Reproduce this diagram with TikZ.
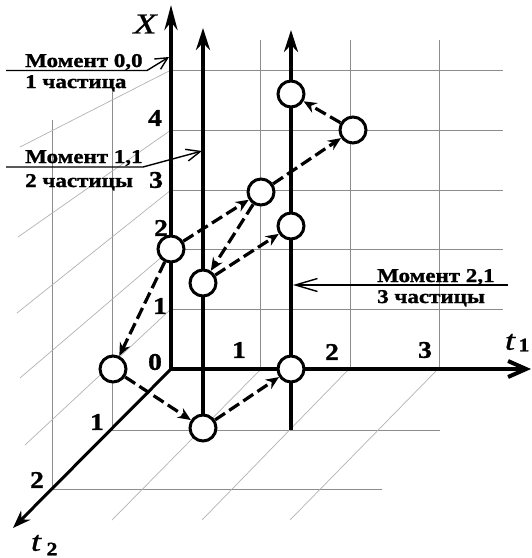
\documentclass[tikz,border=0pt]{standalone}
\usepackage{fontspec}
\setmainfont{Liberation Serif}
\newfontfamily\lblfont[FakeStretch=1.18, BoldFeatures={FakeBold=1.2}]{Liberation Serif}
\newfontfamily\numfont[FakeStretch=1.15, BoldFeatures={FakeBold=1.2}]{Liberation Serif}
\newfontfamily\axfont[FakeStretch=1.3, ItalicFeatures={FakeBold=1}]{Liberation Serif}
\usetikzlibrary{arrows.meta}
\begin{document}
\begin{tikzpicture}[x=1pt,y=-1pt,
  grid/.style={black!45, line width=0.8pt},
  gridl/.style={black!30, line width=0.7pt},
  axis/.style={line width=4pt},
  worldline/.style={line width=3.5pt},
  particle/.style={circle, draw, line width=3pt, fill=white, minimum size=26pt, inner sep=0pt},
  jump/.style={line width=3.2pt, dash pattern=on 12pt off 5pt, -{Stealth[length=13pt,width=11pt]}},
  note/.style={line width=1.4pt},
  num/.style={font=\numfont\fontsize{24}{24}\selectfont\bfseries, inner sep=0pt},
  lbl/.style={font=\lblfont\fontsize{19.5}{21}\selectfont\bfseries, inner sep=0pt, anchor=base west}
]
\useasboundingbox (0,0) rectangle (532,558);
% ---------- grid: back wall ----------
\foreach \y in {70,130,190,249,309} \draw[grid] (171,\y) -- (503,\y);
\foreach \x in {260,350,439} \draw[grid] (\x,40) -- (\x,369);
% ---------- grid: floor ----------
\draw[grid] (112,430) -- (440,430);
\draw[grid] (52,489) -- (382,489);
\draw[gridl] (261,369) -- (112,520);
\draw[gridl] (349,369) -- (202,520);
\draw[gridl] (438,369) -- (290,520);
% ---------- grid: side wall ----------
\draw[grid] (112,88) -- (112,430);
\draw[grid] (52,120) -- (52,489);
\draw[gridl] (171,70) -- (20,147);
\draw[gridl] (171,130) -- (18,237);
\draw[gridl] (171,190) -- (17,313);
\draw[gridl] (171,249) -- (20,378);
\draw[gridl] (171,309) -- (25,445);
% ---------- axes ----------
\coordinate (O) at (171,369);
\coordinate (Xtip) at (171,5);
\coordinate (T1tip) at (531,369);
\coordinate (T2tip) at (13,528);
\coordinate (w1b) at (203,428);
\coordinate (w1t) at (203,28);
\coordinate (w2b) at (291,430);
\coordinate (w2t) at (291,30);
\draw[axis, -{Stealth[length=25pt,width=13pt]}] (O) -- (Xtip);
\draw[axis, -{Straight Barb[length=18pt,width=16pt]}] (O) -- (T1tip);
\draw[line width=3pt, -{Stealth[length=18pt,width=13pt]}] (O) -- (T2tip);
\draw[worldline, -{Stealth[length=22pt,width=14pt]}] (w1b) -- (w1t);
\draw[worldline, -{Stealth[length=22pt,width=14pt]}] (w2b) -- (w2t);
% ---------- axis labels ----------
\node[inner sep=0pt] (lX) at (145,24) {\axfont\fontsize{29}{29}\selectfont\itshape X};
\node[inner sep=0pt] (lt1) at (510,342) {\axfont\fontsize{28}{28}\selectfont\itshape t};
\node[inner sep=0pt] (lt1i) at (524,345) {\numfont\fontsize{19}{19}\selectfont\bfseries 1};
\node[inner sep=0pt] (lt2) at (36,543) {\axfont\fontsize{28}{28}\selectfont\itshape t};
\node[inner sep=0pt] (lt2i) at (52,549) {\numfont\fontsize{19}{19}\selectfont\bfseries 2};
% ---------- numbers ----------
\node[num] (x4) at (155,118) {4};
\node[num] (x3) at (156,180) {3};
\node[num] (x2) at (161,228) {2};
\node[num] (x1) at (160,306) {1};
\node[num] (x0) at (155,362) {0};
\node[num] (a1) at (239,350) {1};
\node[num] (a2) at (332,352) {2};
\node[num] (a3) at (425,350) {3};
\node[num] (b1) at (97,422) {1};
\node[num] (b2) at (37,480) {2};
% ---------- notes ----------
\node[lbl] (m00) at (25,67) {Момент 0,0};
\node[lbl] (p00) at (25,88) {1 частица};
\node[lbl] (m11) at (25,163) {Момент 1,1};
\node[lbl] (p11) at (25,187) {2 частицы};
\node[lbl] (m21) at (377,282) {Момент 2,1};
\node[lbl] (p21) at (377,303) {3 частицы};
\coordinate (n0s) at (6,70.5);
\coordinate (n0m) at (147,70.5);
\coordinate (n0t) at (169,57);
\coordinate (n1s) at (6,167);
\coordinate (n1m) at (143,167);
\coordinate (n1t) at (202,151);
\coordinate (n2s) at (508,285);
\coordinate (n2t) at (293,285);
\draw[note, -{Straight Barb[length=12pt,width=12pt]}] (n0s) -- (n0m) -- (n0t);
\draw[note, -{Straight Barb[length=14pt,width=12pt]}] (n1s) -- (n1m) -- (n1t);
\draw[note, -{Straight Barb[length=22pt,width=13pt]}] (n2s) -- (n2t);
% ---------- particles ----------
\node[particle] (n02) at (171,249) {};
\node[particle] (n011) at (113,369) {};
\node[particle] (n110) at (203,428) {};
\node[particle] (n11b) at (203,283) {};
\node[particle] (n103) at (261,192) {};
\node[particle] (n21a) at (291,226) {};
\node[particle] (n21b) at (291,94) {};
\node[particle] (n204) at (353,130) {};
\node[particle] (n211) at (291,369) {};
% ---------- jumps ----------
\draw[jump] (n02) -- (n011);
\draw[jump] (n02) -- (n103);
\draw[jump] (n103) -- (n11b);
\draw[jump] (n11b) -- (n21a);
\draw[jump] (n011) -- (n110);
\draw[jump] (n110) -- (n211);
\draw[jump] (n103) -- (n204);
\draw[jump] (n204) -- (n21b);
\end{tikzpicture}
\end{document}
